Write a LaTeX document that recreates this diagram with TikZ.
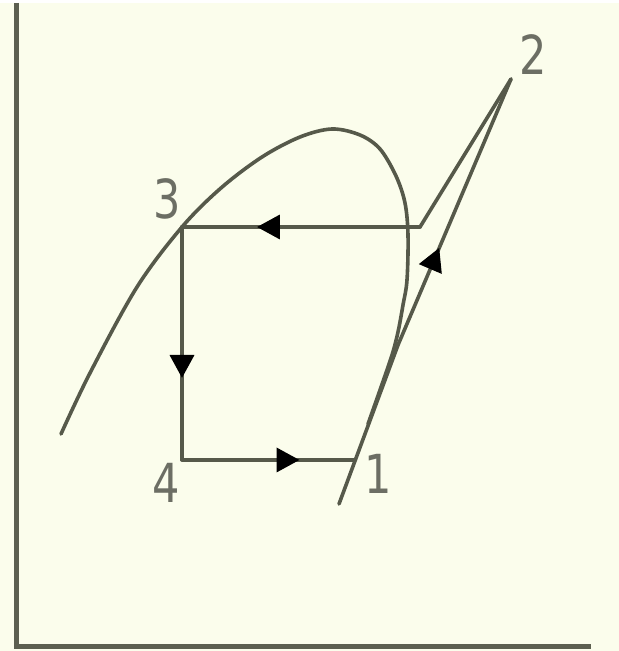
\documentclass[tikz,border=0pt]{standalone}
\usepackage{fontspec}
\newfontfamily\labfont{DejaVu Sans}[FakeStretch=0.8]
\usetikzlibrary{arrows.meta,decorations.markings,calc}
\definecolor{bg}{RGB}{251,253,236}
\definecolor{ln}{RGB}{86,89,74}
\definecolor{ax}{RGB}{92,95,80}
\definecolor{lab}{RGB}{108,110,100}
\tikzset{
  curve/.style={draw=ln, line width=3.6bp, line cap=round, line join=round},
  axisline/.style={draw=ax, line width=5bp, line join=miter},
  arrowmark/.style={postaction={decorate}, decoration={markings,
      mark=at position #1 with {\arrow[black]{Triangle[length=23bp,width=24bp]}}}},
  lbl/.style={font=\labfont\fontsize{54}{54}\selectfont, text=lab, inner sep=0pt}
}
\begin{document}
\begin{tikzpicture}[x=1bp,y=-1bp]
\useasboundingbox (0,0) rectangle (619,651);
\fill[bg] (0,0) rectangle (619,651);
\fill[white] (0,0) rectangle (619,3);
% axes
\coordinate (axtop) at (16,3);
\coordinate (axorigin) at (16,646);
\coordinate (axright) at (591,646);
\draw[axisline] (axtop) -- (axorigin) -- (axright);
% state points
\coordinate (p2) at (511,79);
\coordinate (c0) at (339,504);
\coordinate (cm) at (398,345);
\coordinate (p1) at ($(c0)!0.277!(cm)$);
\coordinate (p3) at (182,227);
\coordinate (p4) at (182,460);
\coordinate (k) at (420,227);
% saturation dome
\draw[curve] plot[smooth, tension=0.55] coordinates {
  (61,434) (90,373) (137,287) (182,227) (221,188) (262,157) (300,137)
  (332,129) (360,135) (380,149) (396,176) (405,203) (408,235) (407,280)
  (403,305) (398,332) (392,355) (380,390) (368,424)};
% cycle
\draw[curve, arrowmark=0.60] (c0) -- (cm) -- (p2);
\draw[curve] (p2) -- (k);
\draw[curve, arrowmark=0.685] (k) -- (p3);
\draw[curve, arrowmark=0.648] (p3) -- (p4);
\draw[curve, arrowmark=0.678] (p4) -- (p1);
% labels
\node[lbl] (l1) at (378,474) {1};
\node[lbl] (l2) at (533,55) {2};
\node[lbl] (l3) at (167,199) {3};
\node[lbl] (l4) at (166,483) {4};
\end{tikzpicture}
\end{document}
